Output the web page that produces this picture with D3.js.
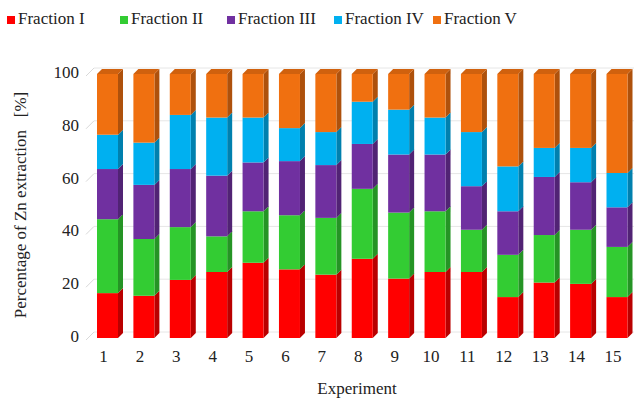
<!DOCTYPE html>
<html>
<head>
<meta charset="utf-8">
<script src="https://cdn.jsdelivr.net/npm/d3@7/dist/d3.min.js"></script>
<style>
  html, body { margin: 0; padding: 0; background: #fff; }
  svg text { font-family: "Liberation Serif", "DejaVu Serif", serif; }
</style>
</head>
<body>
<svg id="chart" width="636" height="402"></svg>
<script>
// Experiments on the x axis
const experiments = ["1","2","3","4","5","6","7","8","9","10","11","12","13","14","15"];

// Fraction names and fills
const fractions = ["Fraction I","Fraction II","Fraction III","Fraction IV","Fraction V"];
const colors = ["#ff0000","#33cc33","#7030a0","#00b0f0","#f07010"];

// Share of Zn extracted in each fraction [%], one value per experiment
const fraction1 = [17, 16, 22, 25, 28.5, 26, 24, 30, 22.5, 25, 25, 15.5, 21, 20.5, 15.5];
const fraction2 = [28, 21.5, 20, 13.5, 19.5, 20.5, 21.5, 26.5, 25, 23, 16, 16, 18, 20.5, 19];
const fraction3 = [19, 20.5, 22, 23, 18.5, 20.5, 20, 17, 22, 21.5, 16.5, 16.5, 22, 18, 15];
const fraction4 = [13, 16, 20.5, 22, 17, 12.5, 12.5, 16, 17, 14, 20.5, 17, 11, 13, 13];
const fraction5 = [23, 26, 15.5, 16.5, 16.5, 20.5, 22, 10.5, 13.5, 16.5, 22, 35, 28, 28, 37.5];

const yTicks = [0, 20, 40, 60, 80, 100];

const series = [fraction1, fraction2, fraction3, fraction4, fraction5];
const rows = experiments.map((e, i) => {
  const r = { exp: e };
  fractions.forEach((f, k) => { r[f] = series[k][i]; });
  return r;
});
const stacked = d3.stack().keys(fractions)(rows);

const svg = d3.select("#chart");
const FONT = "'Liberation Serif', 'DejaVu Serif', serif";

const x = d3.scalePoint().domain(experiments).range([107.5, 617]);
const y = d3.scaleLinear().domain([0, 100]).range([338, 74]);
const barW = 21;
const depth = 5;   // 3D extrusion, to the right and upward

// Back wall gridlines with their slanted side-wall segment
const grid = svg.append("g");
const wallLeft = 86;
yTicks.forEach(t => {
  const yy = y(t);
  grid.append("line")
    .attr("x1", wallLeft).attr("y1", yy + 2)
    .attr("x2", wallLeft + 8).attr("y2", yy - 6)
    .attr("stroke", "#d9d9d9").attr("stroke-width", 1);
  grid.append("line")
    .attr("x1", wallLeft + 8).attr("y1", yy - 6)
    .attr("x2", 634).attr("y2", yy - 6)
    .attr("stroke", "#e6e6e6").attr("stroke-width", 1);
});

// Y tick labels
svg.append("g").selectAll("text").data(yTicks).join("text")
  .attr("x", 79).attr("y", d => y(d))
  .attr("text-anchor", "end").attr("dominant-baseline", "middle")
  .attr("font-family", FONT)
  .attr("font-size", 17).attr("fill", "#222")
  .text(d => d);

// X tick labels
svg.append("g").selectAll("text").data(experiments).join("text")
  .attr("x", d => x(d) - 4).attr("y", 358)
  .attr("text-anchor", "middle").attr("dominant-baseline", "middle")
  .attr("font-family", FONT)
  .attr("font-size", 17).attr("fill", "#222")
  .text(d => d);

// Stacked 3D bars
const bars = svg.append("g");
stacked.forEach((layer, k) => {
  const base = d3.color(colors[k]);
  const side = base.darker(0.9);
  const top = base.darker(0.4);
  const g = bars.append("g");
  layer.forEach((seg, i) => {
    const cx = x(experiments[i]);
    const x0 = cx - barW / 2, x1 = cx + barW / 2;
    const yb = y(seg[0]), yt = y(seg[1]);
    // side face
    g.append("polygon")
      .attr("points", [[x1, yt], [x1 + depth, yt - depth], [x1 + depth, yb - depth], [x1, yb]].join(" "))
      .attr("fill", side);
    // front face
    g.append("rect")
      .attr("x", x0).attr("y", yt)
      .attr("width", barW).attr("height", yb - yt)
      .attr("fill", base);
    // top face on the uppermost segment
    if (k === fractions.length - 1) {
      g.append("polygon")
        .attr("points", [[x0, yt], [x0 + depth, yt - depth], [x1 + depth, yt - depth], [x1, yt]].join(" "))
        .attr("fill", top);
    }
  });
});

// Axis titles
svg.append("text")
  .attr("x", 357).attr("y", 390)
  .attr("text-anchor", "middle").attr("dominant-baseline", "middle")
  .attr("font-family", FONT)
  .attr("font-size", 17).attr("fill", "#222")
  .text("Experiment");

svg.append("text")
  .attr("transform", "translate(22,205) rotate(-90)")
  .attr("text-anchor", "middle").attr("dominant-baseline", "middle")
  .attr("font-family", FONT)
  .attr("font-size", 17).attr("fill", "#222")
  .attr("xml:space", "preserve")
  .text("Percentage of Zn extraction   [%]");

// Legend
const legendX = [7, 120, 227, 334, 433];
const legend = svg.append("g");
fractions.forEach((f, k) => {
  legend.append("rect")
    .attr("x", legendX[k]).attr("y", 16)
    .attr("width", 8).attr("height", 8)
    .attr("fill", colors[k]);
  legend.append("text")
    .attr("x", legendX[k] + 11).attr("y", 20)
    .attr("dominant-baseline", "middle")
    .attr("font-family", FONT)
    .attr("font-size", 17).attr("fill", "#222")
    .text(f);
});
</script>
</body>
</html>
